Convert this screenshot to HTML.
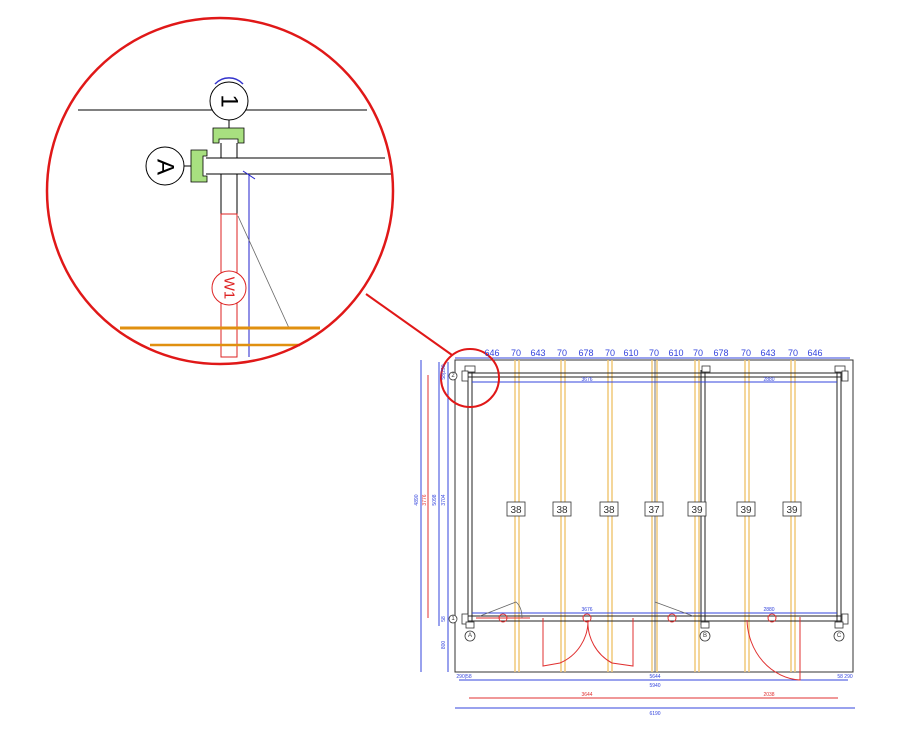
<!DOCTYPE html>
<html><head><meta charset="utf-8"><style>html,body{margin:0;padding:0;background:#fff;width:900px;height:743px;overflow:hidden}</style></head>
<body>
<svg width="900" height="743" viewBox="0 0 900 743" xmlns="http://www.w3.org/2000/svg" font-family="Liberation Sans, sans-serif">
<!-- ===== Zoomed detail circle ===== -->
<g>
<line x1="78" y1="110" x2="367" y2="110" stroke="#000" stroke-width="1"/>
<path d="M215 84 A19 19 0 0 1 243 84" fill="none" stroke="#33c" stroke-width="1.5"/>
<circle cx="229" cy="101" r="19" fill="#fff" stroke="#000" stroke-width="1"/>
<text x="229" y="101" font-size="24" text-anchor="middle" dominant-baseline="central" transform="rotate(90 229 101)">1</text>
<line x1="229" y1="120" x2="229" y2="128" stroke="#000"/>
<path d="M213 128 H244 V143 H238 V139 H219 V143 H213 Z" fill="#a8e080" stroke="#000" stroke-width="0.8"/>
<line x1="221" y1="143" x2="221" y2="357" stroke="#000"/>
<line x1="237" y1="143" x2="237" y2="357" stroke="#000"/>
<rect x="206" y="158" width="180" height="16" fill="#fff"/>
<line x1="206" y1="158" x2="385" y2="158" stroke="#000"/>
<line x1="206" y1="174" x2="392" y2="174" stroke="#000"/>
<path d="M191 150 H207 V156 H203 V176 H207 V182 H191 Z" fill="#a8e080" stroke="#000" stroke-width="0.8"/>
<line x1="184" y1="166" x2="191" y2="166" stroke="#000"/>
<circle cx="165" cy="166" r="19" fill="#fff" stroke="#000"/>
<text x="165" y="167" font-size="24" text-anchor="middle" dominant-baseline="central" transform="rotate(90 165 167)">A</text>
<rect x="221" y="214" width="16" height="143" fill="#fff" stroke="#d22" stroke-width="1"/>
<circle cx="229" cy="288" r="17" fill="#fff" stroke="#d22" stroke-width="1"/>
<text x="229" y="288" font-size="15" fill="#d22" text-anchor="middle" dominant-baseline="central" transform="rotate(90 229 288)">W1</text>
<line x1="249" y1="174" x2="249" y2="357" stroke="#22c" stroke-width="1"/>
<line x1="243" y1="171" x2="255" y2="179" stroke="#22c" stroke-width="1"/>
<line x1="238" y1="216" x2="289" y2="328" stroke="#666" stroke-width="0.8"/>
<line x1="120" y1="328" x2="320" y2="328" stroke="#e09010" stroke-width="3"/>
<line x1="150" y1="345" x2="300" y2="345" stroke="#e09010" stroke-width="2.5"/>
<circle cx="220" cy="191" r="173" fill="none" stroke="#e01818" stroke-width="2.5"/>
<line x1="366" y1="294" x2="452" y2="355" stroke="#e01818" stroke-width="2"/>
</g>
<!-- ===== Plan ===== -->
<g fill="none">
<rect x="455" y="360" width="398" height="312" stroke="#333" stroke-width="1"/>
<!-- joists -->
<g stroke="#f0c878" stroke-width="1.5">
<line x1="515" y1="360" x2="515" y2="672"/><line x1="519" y1="360" x2="519" y2="672"/>
<line x1="561" y1="360" x2="561" y2="672"/><line x1="565" y1="360" x2="565" y2="672"/>
<line x1="608" y1="360" x2="608" y2="672"/><line x1="612" y1="360" x2="612" y2="672"/>
<line x1="652" y1="360" x2="652" y2="672"/><line x1="657" y1="360" x2="657" y2="672"/>
<line x1="695" y1="360" x2="695" y2="672"/><line x1="699" y1="360" x2="699" y2="672"/>
<line x1="745" y1="360" x2="745" y2="672"/><line x1="749" y1="360" x2="749" y2="672"/>
<line x1="791" y1="360" x2="791" y2="672"/><line x1="795" y1="360" x2="795" y2="672"/>
</g>
<line x1="655" y1="360" x2="655" y2="672" stroke="#555" stroke-width="0.8"/>
<!-- walls -->
<g stroke="#222" stroke-width="1">
<line x1="468" y1="373" x2="841" y2="373"/><line x1="468" y1="377" x2="841" y2="377"/>
<line x1="468" y1="616" x2="841" y2="616"/><line x1="468" y1="621" x2="841" y2="621"/>
<line x1="468" y1="370" x2="468" y2="625"/><line x1="472" y1="370" x2="472" y2="625"/>
<line x1="837" y1="370" x2="837" y2="625"/><line x1="841" y1="370" x2="841" y2="625"/>
<line x1="701" y1="370" x2="701" y2="625"/><line x1="705" y1="370" x2="705" y2="625"/>
</g>
<!-- blue dims inside -->
<g stroke="#3344dd" stroke-width="1">
<line x1="472" y1="382" x2="837" y2="382"/>
<line x1="472" y1="613" x2="837" y2="613"/>
<line x1="455" y1="358" x2="850" y2="358"/>
<line x1="459" y1="680" x2="848" y2="680"/>
<line x1="455" y1="708" x2="855" y2="708"/>
<line x1="421" y1="360" x2="421" y2="672"/>
<line x1="439" y1="362" x2="439" y2="626"/>
<line x1="448" y1="362" x2="448" y2="672"/>
</g>
<g stroke="#e03030" stroke-width="1">
<line x1="428" y1="375" x2="428" y2="618"/>
<line x1="469" y1="698" x2="838" y2="698"/>
<!-- doors -->
<line x1="476" y1="618" x2="530" y2="618"/>
<circle cx="503" cy="618" r="4"/><circle cx="587" cy="618" r="4"/><circle cx="672" cy="618" r="4"/><circle cx="772" cy="618" r="4"/>
<path d="M543 618 V666 L560 663 A46 46 0 0 0 588 620 A46 46 0 0 0 612 663 L633 666 V618"/>
<path d="M747 620 A56 62 0 0 0 800 680 V617"/>
</g>
<g stroke="#666" stroke-width="0.8">
<path d="M480 616 L516 602 Q522 607 522 618"/>
<path d="M655 602 L693 616"/>
</g>
<!-- post caps -->
<g stroke="#333" stroke-width="0.8" fill="#fff">
<rect x="465" y="366" width="10" height="6"/><rect x="702" y="366" width="8" height="6"/><rect x="835" y="366" width="10" height="6"/>
<rect x="462" y="371" width="6" height="10"/><rect x="842" y="371" width="6" height="10"/>
<rect x="462" y="614" width="6" height="10"/><rect x="842" y="614" width="6" height="10"/>
<rect x="466" y="622" width="8" height="6"/><rect x="701" y="622" width="8" height="6"/><rect x="835" y="622" width="8" height="6"/>
<circle cx="453" cy="376" r="4"/><circle cx="453" cy="619" r="4"/>
<circle cx="470" cy="636" r="5"/><circle cx="705" cy="636" r="5"/><circle cx="839" cy="636" r="5"/>
</g>
<circle cx="470" cy="378" r="29" stroke="#e01818" stroke-width="2"/>
</g>
<!-- labels -->
<g font-size="6" fill="#333" text-anchor="middle" dominant-baseline="central">
<text x="453" y="376">2</text><text x="453" y="619">1</text>
<text x="470" y="636">A</text><text x="705" y="636">B</text><text x="839" y="636">C</text>
</g>
<g fill="#fff" stroke="#333" stroke-width="0.8">
<rect x="507" y="502" width="18" height="14"/><rect x="553" y="502" width="18" height="14"/><rect x="600" y="502" width="18" height="14"/>
<rect x="645" y="502" width="18" height="14"/><rect x="688" y="502" width="18" height="14"/><rect x="737" y="502" width="18" height="14"/><rect x="783" y="502" width="18" height="14"/>
</g>
<g font-size="10" fill="#333" text-anchor="middle">
<text x="516" y="513">38</text><text x="562" y="513">38</text><text x="609" y="513">38</text><text x="654" y="513">37</text><text x="697" y="513">39</text><text x="746" y="513">39</text><text x="792" y="513">39</text>
</g>
<g font-size="9" fill="#3344dd" text-anchor="middle">
<text x="492" y="356">646</text><text x="516" y="356">70</text><text x="538" y="356">643</text><text x="562" y="356">70</text><text x="586" y="356">678</text><text x="610" y="356">70</text><text x="631" y="356">610</text><text x="654" y="356">70</text><text x="676" y="356">610</text><text x="698" y="356">70</text><text x="721" y="356">678</text><text x="746" y="356">70</text><text x="768" y="356">643</text><text x="793" y="356">70</text><text x="815" y="356">646</text>
</g>
<g font-size="5" fill="#3344dd" text-anchor="middle">
<text x="587" y="381">3676</text><text x="769" y="381">2880</text>
<text x="587" y="611">3676</text><text x="769" y="611">2880</text>
<text x="464" y="678">290|58</text><text x="655" y="678">5644</text><text x="845" y="678">58 290</text>
<text x="655" y="687">5940</text><text x="655" y="715">6190</text>
<text x="418" y="500" transform="rotate(-90 418 500)">4890</text>
<text x="436" y="500" transform="rotate(-90 436 500)">5098</text>
<text x="445" y="500" transform="rotate(-90 445 500)">3704</text>
<text x="445" y="645" transform="rotate(-90 445 645)">800</text>
<text x="445" y="619" transform="rotate(-90 445 619)">58</text>
<text x="445" y="372" transform="rotate(-90 445 372)">58|290</text>
</g>
<g font-size="5" fill="#e03030" text-anchor="middle">
<text x="426" y="500" transform="rotate(-90 426 500)">3776</text>
<text x="587" y="696">3644</text><text x="769" y="696">2038</text>
</g>
</svg>
</body></html>
